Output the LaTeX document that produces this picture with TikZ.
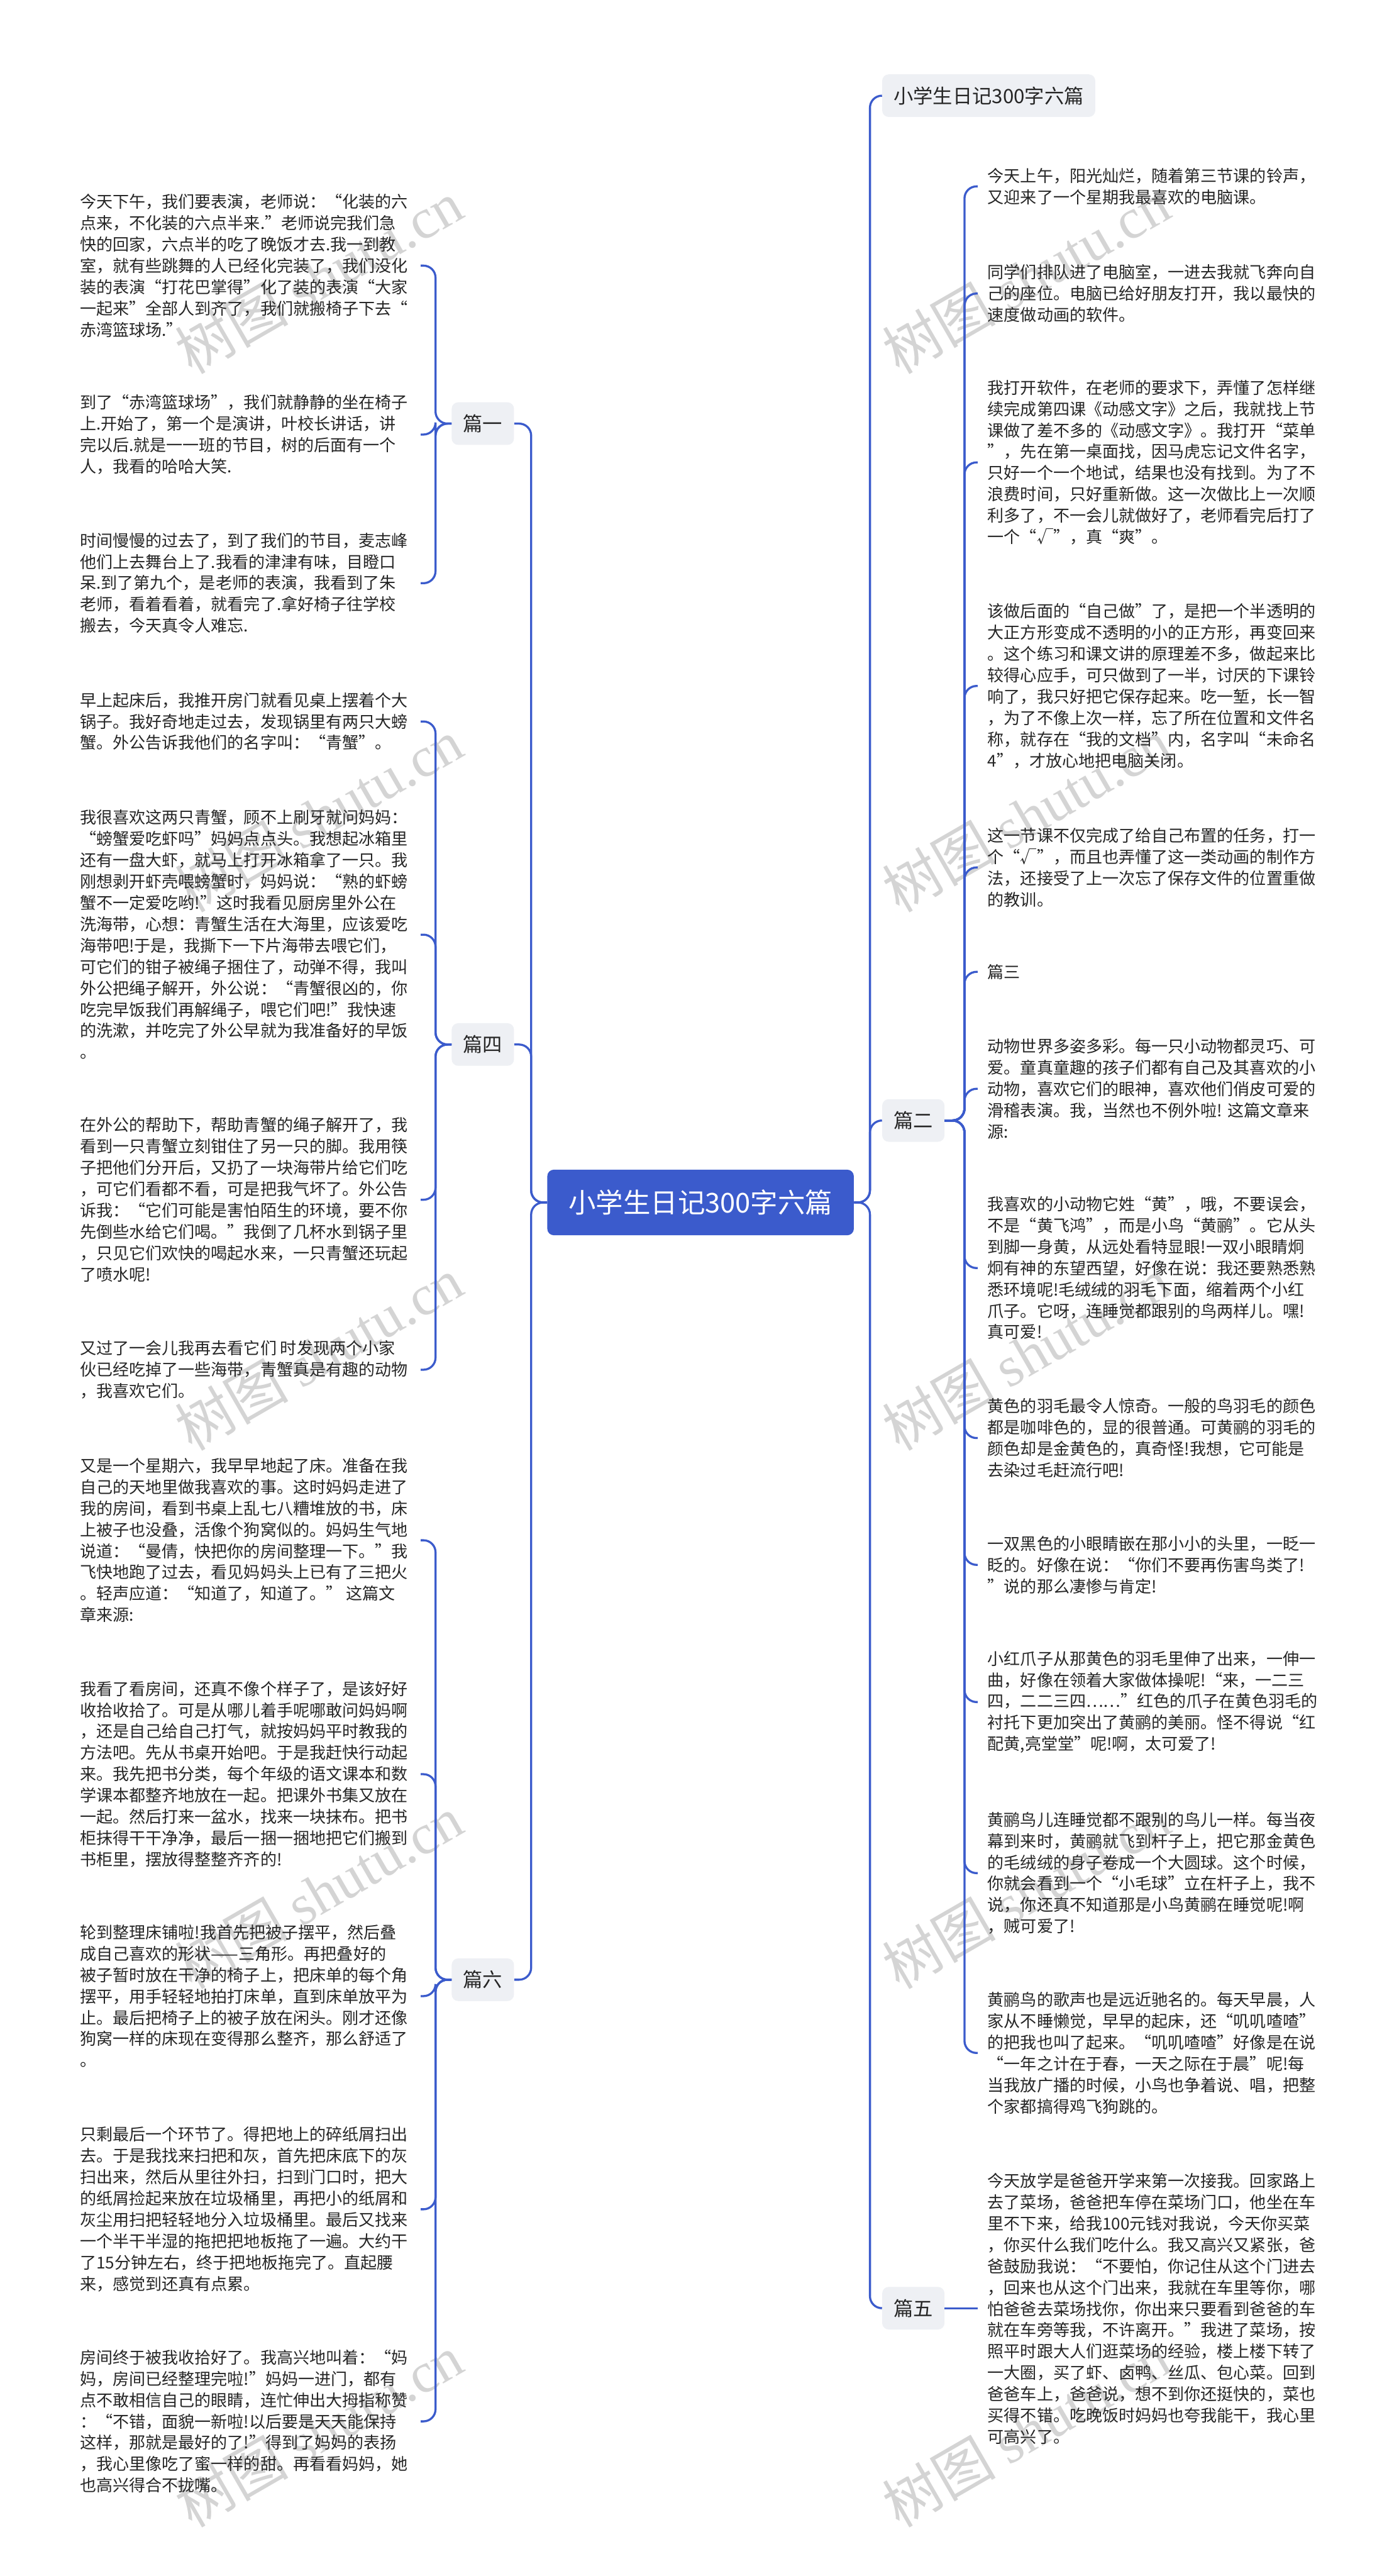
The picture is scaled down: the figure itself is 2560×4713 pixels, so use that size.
\documentclass[tikz,border=0pt]{standalone}
\usepackage{fontspec}
\setmainfont{Noto Sans CJK SC}
\newfontfamily\wmfont{Liberation Serif}

\definecolor{mapblue}{RGB}{59,91,204}
\definecolor{tabgray}{RGB}{238,240,244}

\begin{document}
\begin{tikzpicture}[x=0.5pt,y=-0.5pt,
	link/.style={draw=mapblue,line width=1.9pt,rounded corners=11pt},
	rootbox/.style={fill=mapblue,text=white,rounded corners=6pt,minimum width=280.5pt,minimum height=60pt,inner sep=0pt,font=\fontsize{25pt}{29pt}\selectfont},
	tabbox/.style={fill=tabgray,rounded corners=6pt,inner xsep=10.5pt,inner ysep=0pt,minimum height=39pt,text=black!85,font=\fontsize{18pt}{22pt}\selectfont},
	leaf/.style={align=left,inner sep=0pt,anchor=west,text=black!85,font=\fontsize{15pt}{19.5pt}\selectfont},
	wm/.style={rotate=30,anchor=base west,text=black!17,font=\fontsize{52pt}{60pt}\selectfont}]

	\fill[white] (0,0) rectangle (2560,4713);
	\useasboundingbox (0,0) rectangle (2560,4713);

	% watermark
	\foreach \k in {0,...,4}
	{
		\node[wm] (wl\k) at (345,690+985*\k) {树图 {\wmfont shutu.cn}};
		\node[wm] (wr\k) at (1640,690+985*\k) {树图 {\wmfont shutu.cn}};
	}

	\node[rootbox] (root) at (1282,2200) {小学生日记300字六篇};

	\node[tabbox,anchor=east] (p1) at (941,775) {篇一};
	\node[tabbox,anchor=east] (p4) at (941,1911) {篇四};
	\node[tabbox,anchor=east] (p6) at (941,3622) {篇六};
	\node[tabbox,anchor=west] (p0) at (1614,175) {小学生日记300字六篇};
	\node[tabbox,anchor=west] (p2) at (1614,2050) {篇二};
	\node[tabbox,anchor=west] (p5) at (1614,4223) {篇五};

	\coordinate (ltrunk) at (972,0);
	\coordinate (rtrunk) at (1592,0);
	\coordinate (lfork) at (797,0);
	\coordinate (ltip) at (770,0);
	\coordinate (rfork) at (1765,0);
	\coordinate (rtip) at (1789,0);

	% 篇一
	\node[leaf] (a1) at (146,486) {今天下午，我们要表演，老师说：“化装的六\\
点来，不化装的六点半来.”老师说完我们急\\
快的回家，六点半的吃了晚饭才去.我一到教\\
室，就有些跳舞的人已经化完装了，我们没化\\
装的表演“打花巴掌得”化了装的表演“大家\\
一起来”全部人到齐了，我们就搬椅子下去“\\
赤湾篮球场.”};
	\node[leaf] (a2) at (146,795) {到了“赤湾篮球场”，我们就静静的坐在椅子\\
上.开始了，第一个是演讲，叶校长讲话，讲\\
完以后.就是一一班的节目，树的后面有一个\\
人，我看的哈哈大笑.};
	\node[leaf] (a3) at (146,1067) {时间慢慢的过去了，到了我们的节目，麦志峰\\
他们上去舞台上了.我看的津津有味，目瞪口\\
呆.到了第九个，是老师的表演，我看到了朱\\
老师，看着看着，就看完了.拿好椅子往学校\\
搬去，今天真令人难忘.};

	% 篇四
	\node[leaf] (b1) at (146,1320) {早上起床后，我推开房门就看见桌上摆着个大\\
锅子。我好奇地走过去，发现锅里有两只大螃\\
蟹。外公告诉我他们的名字叫：“青蟹”。};
	\node[leaf] (b2) at (146,1710) {我很喜欢这两只青蟹，顾不上刷牙就问妈妈：\\
“螃蟹爱吃虾吗”妈妈点点头。我想起冰箱里\\
还有一盘大虾，就马上打开冰箱拿了一只。我\\
刚想剥开虾壳喂螃蟹时，妈妈说：“熟的虾螃\\
蟹不一定爱吃哟!”这时我看见厨房里外公在\\
洗海带，心想：青蟹生活在大海里，应该爱吃\\
海带吧!于是，我撕下一下片海带去喂它们，\\
可它们的钳子被绳子捆住了，动弹不得，我叫\\
外公把绳子解开，外公说：“青蟹很凶的，你\\
吃完早饭我们再解绳子，喂它们吧!”我快速\\
的洗漱，并吃完了外公早就为我准备好的早饭\\
。};
	\node[leaf] (b3) at (146,2195) {在外公的帮助下，帮助青蟹的绳子解开了，我\\
看到一只青蟹立刻钳住了另一只的脚。我用筷\\
子把他们分开后，又扔了一块海带片给它们吃\\
，可它们看都不看，可是把我气坏了。外公告\\
诉我：“它们可能是害怕陌生的环境，要不你\\
先倒些水给它们喝。”我倒了几杯水到锅子里\\
，只见它们欢快的喝起水来，一只青蟹还玩起\\
了喷水呢!};
	\node[leaf] (b4) at (146,2506) {又过了一会儿我再去看它们 时发现两个小家\\
伙已经吃掉了一些海带，青蟹真是有趣的动物\\
，我喜欢它们。};

	% 篇六
	\node[leaf] (c1) at (146,2818) {又是一个星期六，我早早地起了床。准备在我\\
自己的天地里做我喜欢的事。这时妈妈走进了\\
我的房间，看到书桌上乱七八糟堆放的书，床\\
上被子也没叠，活像个狗窝似的。妈妈生气地\\
说道：“曼倩，快把你的房间整理一下。”我\\
飞快地跑了过去，看见妈妈头上已有了三把火\\
。轻声应道：“知道了，知道了。” 这篇文\\
章来源:};
	\node[leaf] (c2) at (146,3246) {我看了看房间，还真不像个样子了，是该好好\\
收拾收拾了。可是从哪儿着手呢哪敢问妈妈啊\\
，还是自己给自己打气，就按妈妈平时教我的\\
方法吧。先从书桌开始吧。于是我赶快行动起\\
来。我先把书分类，每个年级的语文课本和数\\
学课本都整齐地放在一起。把课外书集又放在\\
一起。然后打来一盆水，找来一块抹布。把书\\
柜抹得干干净净，最后一捆一捆地把它们搬到\\
书柜里，摆放得整整齐齐的!};
	\node[leaf] (c3) at (146,3652) {轮到整理床铺啦!我首先把被子摆平，然后叠\\
成自己喜欢的形状——三角形。再把叠好的\\
被子暂时放在干净的椅子上，把床单的每个角\\
摆平，用手轻轻地拍打床单，直到床单放平为\\
止。最后把椅子上的被子放在闲头。刚才还像\\
狗窝一样的床现在变得那么整齐，那么舒适了\\
。};
	\node[leaf] (c4) at (146,4042) {只剩最后一个环节了。得把地上的碎纸屑扫出\\
去。于是我找来扫把和灰，首先把床底下的灰\\
扫出来，然后从里往外扫，扫到门口时，把大\\
的纸屑捡起来放在垃圾桶里，再把小的纸屑和\\
灰尘用扫把轻轻地分入垃圾桶里。最后又找来\\
一个半干半湿的拖把把地板拖了一遍。大约干\\
了15分钟左右，终于把地板拖完了。直起腰\\
来，感觉到还真有点累。};
	\node[leaf] (c5) at (146,4430) {房间终于被我收拾好了。我高兴地叫着：“妈\\
妈，房间已经整理完啦!”妈妈一进门，都有\\
点不敢相信自己的眼睛，连忙伸出大拇指称赞\\
：“不错，面貌一新啦!以后要是天天能保持\\
这样，那就是最好的了!”得到了妈妈的表扬\\
，我心里像吃了蜜一样的甜。再看看妈妈，她\\
也高兴得合不拢嘴。};

	% 篇二
	\node[leaf] (d1) at (1807,341) {今天上午，阳光灿烂，随着第三节课的铃声，\\
又迎来了一个星期我最喜欢的电脑课。};
	\node[leaf] (d2) at (1807,537) {同学们排队进了电脑室，一进去我就飞奔向自\\
己的座位。电脑已给好朋友打开，我以最快的\\
速度做动画的软件。};
	\node[leaf] (d3) at (1807,846) {我打开软件，在老师的要求下，弄懂了怎样继\\
续完成第四课《动感文字》之后，我就找上节\\
课做了差不多的《动感文字》。我打开“菜单\\
”，先在第一桌面找，因马虎忘记文件名字，\\
只好一个一个地试，结果也没有找到。为了不\\
浪费时间，只好重新做。这一次做比上一次顺\\
利多了，不一会儿就做好了，老师看完后打了\\
一个“√”，真“爽”。};
	\node[leaf] (d4) at (1807,1255) {该做后面的“自己做”了，是把一个半透明的\\
大正方形变成不透明的小的正方形，再变回来\\
。这个练习和课文讲的原理差不多，做起来比\\
较得心应手，可只做到了一半，讨厌的下课铃\\
响了，我只好把它保存起来。吃一堑，长一智\\
，为了不像上次一样，忘了所在位置和文件名\\
称，就存在“我的文档”内，名字叫“未命名\\
4”，才放心地把电脑关闭。};
	\node[leaf] (d5) at (1807,1587) {这一节课不仅完成了给自己布置的任务，打一\\
个“√”，而且也弄懂了这一类动画的制作方\\
法，还接受了上一次忘了保存文件的位置重做\\
的教训。};
	\node[leaf] (d6) at (1807,1778) {篇三};
	\node[leaf] (d7) at (1807,1992) {动物世界多姿多彩。每一只小动物都灵巧、可\\
爱。童真童趣的孩子们都有自己及其喜欢的小\\
动物，喜欢它们的眼神，喜欢他们俏皮可爱的\\
滑稽表演。我，当然也不例外啦! 这篇文章来\\
源:};
	\node[leaf] (d8) at (1807,2320) {我喜欢的小动物它姓“黄”，哦，不要误会，\\
不是“黄飞鸿”，而是小鸟“黄鹂”。它从头\\
到脚一身黄，从远处看特显眼!一双小眼睛炯\\
炯有神的东望西望，好像在说：我还要熟悉熟\\
悉环境呢!毛绒绒的羽毛下面，缩着两个小红\\
爪子。它呀，连睡觉都跟别的鸟两样儿。嘿!\\
真可爱!};
	\node[leaf] (d9) at (1807,2631) {黄色的羽毛最令人惊奇。一般的鸟羽毛的颜色\\
都是咖啡色的，显的很普通。可黄鹂的羽毛的\\
颜色却是金黄色的，真奇怪!我想，它可能是\\
去染过毛赶流行吧!};
	\node[leaf] (d10) at (1807,2863) {一双黑色的小眼睛嵌在那小小的头里，一眨一\\
眨的。好像在说：“你们不要再伤害鸟类了!\\
”说的那么凄惨与肯定!};
	\node[leaf] (d11) at (1807,3114) {小红爪子从那黄色的羽毛里伸了出来，一伸一\\
曲，好像在领着大家做体操呢!“来，一二三\\
四，二二三四……”红色的爪子在黄色羽毛的\\
衬托下更加突出了黄鹂的美丽。怪不得说“红\\
配黄,亮堂堂”呢!啊，太可爱了!};
	\node[leaf] (d12) at (1807,3427) {黄鹂鸟儿连睡觉都不跟别的鸟儿一样。每当夜\\
幕到来时，黄鹂就飞到杆子上，把它那金黄色\\
的毛绒绒的身子卷成一个大圆球。这个时候，\\
你就会看到一个“小毛球”立在杆子上，我不\\
说，你还真不知道那是小鸟黄鹂在睡觉呢!啊\\
，贼可爱了!};
	\node[leaf] (d13) at (1807,3756) {黄鹂鸟的歌声也是远近驰名的。每天早晨，人\\
家从不睡懒觉，早早的起床，还“叽叽喳喳”\\
的把我也叫了起来。“叽叽喳喳”好像是在说\\
“一年之计在于春，一天之际在于晨”呢!每\\
当我放广播的时候，小鸟也争着说、唱，把整\\
个家都搞得鸡飞狗跳的。};

	% 篇五
	\node[leaf] (e1) at (1807,4224) {今天放学是爸爸开学来第一次接我。回家路上\\
去了菜场，爸爸把车停在菜场门口，他坐在车\\
里不下来，给我100元钱对我说，今天你买菜\\
，你买什么我们吃什么。我又高兴又紧张，爸\\
爸鼓励我说：“不要怕，你记住从这个门进去\\
，回来也从这个门出来，我就在车里等你，哪\\
怕爸爸去菜场找你，你出来只要看到爸爸的车\\
就在车旁等我，不许离开。”我进了菜场，按\\
照平时跟大人们逛菜场的经验，楼上楼下转了\\
一大圈，买了虾、卤鸭、丝瓜、包心菜。回到\\
爸爸车上，爸爸说，想不到你还挺快的，菜也\\
买得不错。吃晚饭时妈妈也夸我能干，我心里\\
可高兴了。};

	\foreach \p in {p1,p4,p6}
		\draw[link] (root.west) -- (ltrunk |- root.west) |- (\p.east);
	\foreach \p in {p0,p2,p5}
		\draw[link] (root.east) -- (rtrunk |- root.east) |- (\p.west);

	\foreach \n in {a1,a2,a3}
		\draw[link] (p1.west) -- (lfork |- p1.west) |- (ltip |- \n.west);
	\foreach \n in {b1,b2,b3,b4}
		\draw[link] (p4.west) -- (lfork |- p4.west) |- (ltip |- \n.west);
	\foreach \n in {c1,c2,c3,c4,c5}
		\draw[link] (p6.west) -- (lfork |- p6.west) |- (ltip |- \n.west);
	\foreach \n in {d1,d2,d3,d4,d5,d6,d7,d8,d9,d10,d11,d12,d13}
		\draw[link] (p2.east) -- (rfork |- p2.east) |- (rtip |- \n.west);
	\draw[link] (p5.east) -- (rtip |- p5.east);

\end{tikzpicture}
\end{document}
